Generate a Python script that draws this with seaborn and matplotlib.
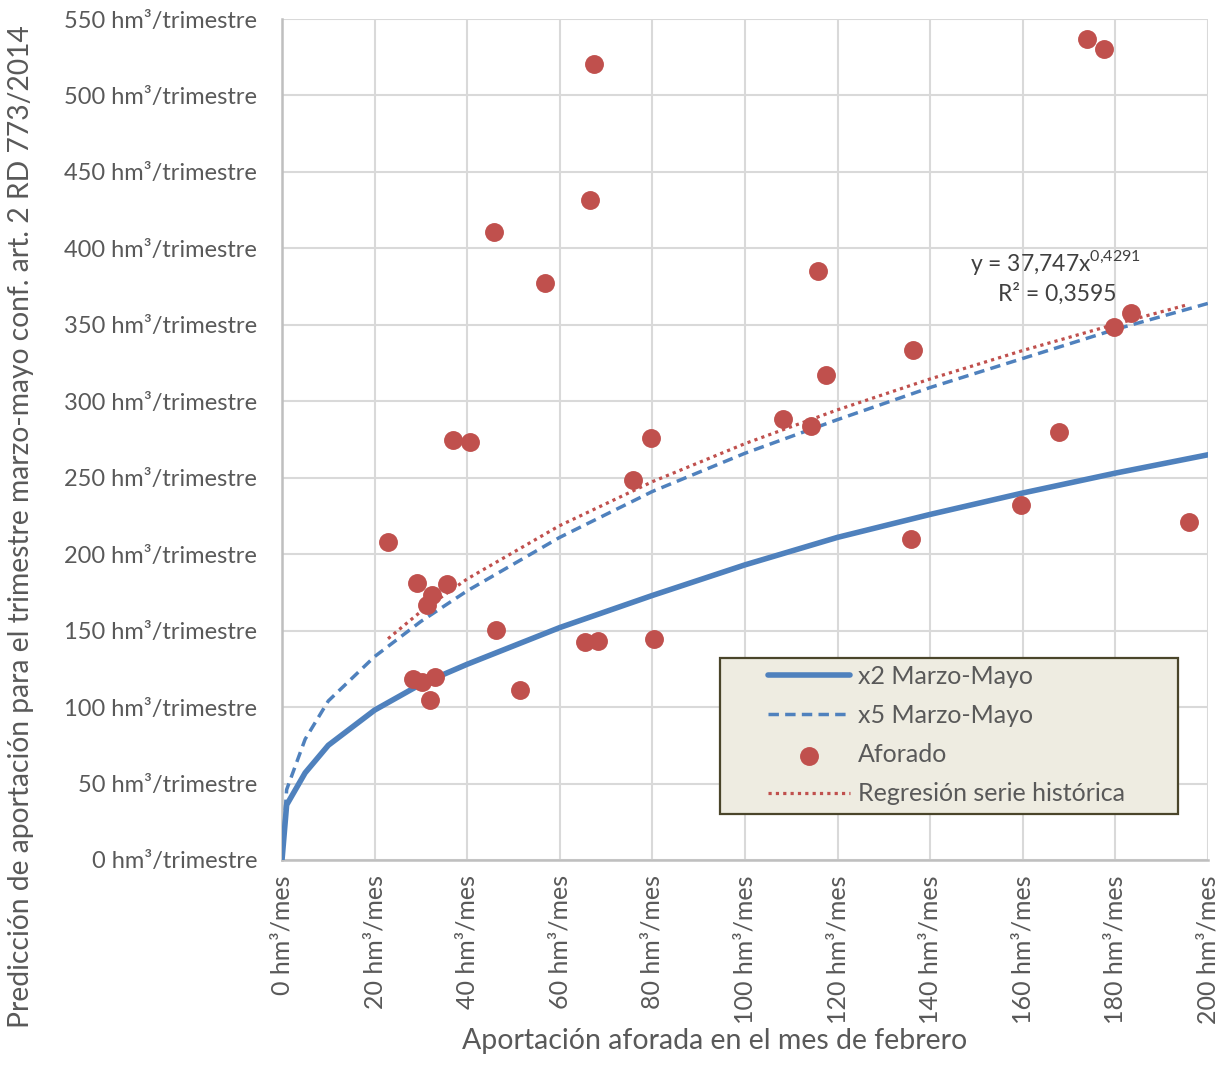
import matplotlib
matplotlib.use('Agg')
import matplotlib.pyplot as plt
import seaborn as sns
import numpy as np
import pandas as pd
from matplotlib.patches import Rectangle

sns.set_style('whitegrid')
plt.rcParams['font.family'] = ['Lato', 'DejaVu Sans']
plt.rcParams['mathtext.fontset'] = 'custom'
plt.rcParams['mathtext.rm'] = 'Lato'

# Aforado (scatter) - febrero vs trimestre marzo-mayo
feb = [22.9, 29.1, 35.6, 32.5, 31.3, 28.4, 33.0, 32.0, 30.2, 36.9, 40.6, 45.8,
       46.2, 51.4, 56.8, 65.4, 68.3, 66.5, 67.4, 75.8, 79.7, 80.3, 108.2, 114.3,
       115.8, 117.5, 135.9, 136.3, 159.6, 167.8, 173.9, 177.5, 179.7, 183.4, 195.9]
trim = [208.0, 181.0, 180.5, 173.3, 166.8, 118.2, 119.9, 104.6, 116.6, 274.7, 273.4, 410.7,
        150.4, 111.2, 377.4, 142.6, 143.2, 431.7, 520.6, 248.5, 276.0, 144.5, 288.4, 283.8,
        385.2, 317.2, 210.0, 333.5, 232.2, 280.0, 537.0, 530.4, 348.6, 357.7, 221.1]

# prediction curves
curve_x = [0, 1, 5, 10, 20, 30, 40, 60, 80, 100, 120, 140, 160, 180, 200]
x2_vals = [0, 36, 57, 75, 98, 115, 128, 152, 173, 193, 211, 226, 240, 253, 265]
x5_vals = [0, 46, 79, 104, 133, 156, 176, 211, 241, 266, 288, 309, 328, 347, 364]

# trendline (regresion serie historica)
reg_x = [22.9, 30, 40, 60, 80, 100, 120, 140, 160, 180, 195.9]
reg_y = [144.7, 162.5, 183.8, 218.7, 247.4, 272.3, 294.4, 314.6, 333.2, 350.4, 363.4]

x_ticks = list(range(0, 201, 20))
y_ticks = list(range(0, 551, 50))

blue = '#4F81BD'
red = '#C0504D'
grey = '#595959'

fig, ax = plt.subplots(figsize=(12.24, 10.68), dpi=100)
fig.subplots_adjust(left=0.2304, right=0.9869, bottom=0.1948, top=0.9822)

sns.lineplot(x=curve_x, y=x2_vals, ax=ax, color=blue, lw=4.0, label='x2 Marzo-Mayo',
             solid_capstyle='round', zorder=3)
sns.lineplot(x=curve_x, y=x5_vals, ax=ax, color=blue, lw=2.5, label='x5 Marzo-Mayo',
             zorder=3)
ax.lines[-1].set_dashes((3.0, 1.8))
sns.scatterplot(x=feb, y=trim, ax=ax, color=red, s=185, linewidth=0, label='Aforado', zorder=4)
sns.lineplot(x=reg_x, y=reg_y, ax=ax, color=red, lw=2.3, label='Regresión serie histórica',
             zorder=5)
ax.lines[-1].set_linestyle((0, (1, 1.3)))

ax.set_xlim(0, 200)
ax.set_ylim(0, 550)
ax.set_xticks(x_ticks)
ax.set_yticks(y_ticks)
ax.set_xticklabels([f'{v} hm³/mes' for v in x_ticks], rotation=90, fontsize=18, color=grey)
ax.set_yticklabels([f'{v} hm³/trimestre' for v in y_ticks], fontsize=17, color=grey)
ax.tick_params(axis='y', length=0, pad=18)
ax.tick_params(axis='x', length=0, pad=11)
ax.grid(True, color='#D9D9D9', lw=1.5)

for side in ['top', 'right']:
    ax.spines[side].set_visible(False)
for side in ['left', 'bottom']:
    ax.spines[side].set_color('#BFBFBF')
    ax.spines[side].set_linewidth(1.8)

ax.set_xlabel('Aportación aforada en el mes de febrero', fontsize=20.5, color=grey)
ax.set_ylabel('Predicción de aportación para el trimestre marzo-mayo conf. art. 2 RD 773/2014',
              fontsize=20.3, color=grey)
ax.xaxis.set_label_coords(0.4676, -0.2)
ax.yaxis.set_label_coords(-0.268, 0.396)

ax.text(167, 391, r'y = 37,747x$^{\mathregular{0{,}4291}}$', fontsize=16.5, color='#404040',
        ha='center', va='center')
ax.text(167.5, 370, 'R² = 0,3595', fontsize=16.5, color='#404040', ha='center', va='center')

# legend box drawn separately so the entries can sit inset like in Excel
ax.add_patch(Rectangle((0.473, 0.0547), 0.4946, 0.1853, transform=ax.transAxes,
                       facecolor='#EEECE1', edgecolor='#4A452A', lw=1.6, zorder=6))
handles, labels = ax.get_legend_handles_labels()
leg = ax.legend(handles, labels, loc='center left', bbox_to_anchor=(0.5248, 0.1486),
                fontsize=18, frameon=False, handlelength=3.3, handletextpad=0.3,
                borderaxespad=0, borderpad=0, labelspacing=0.65)
leg.set_zorder(7)
for t in leg.get_texts():
    t.set_color(grey)

plt.savefig('out.png', dpi=100)
plt.close()
